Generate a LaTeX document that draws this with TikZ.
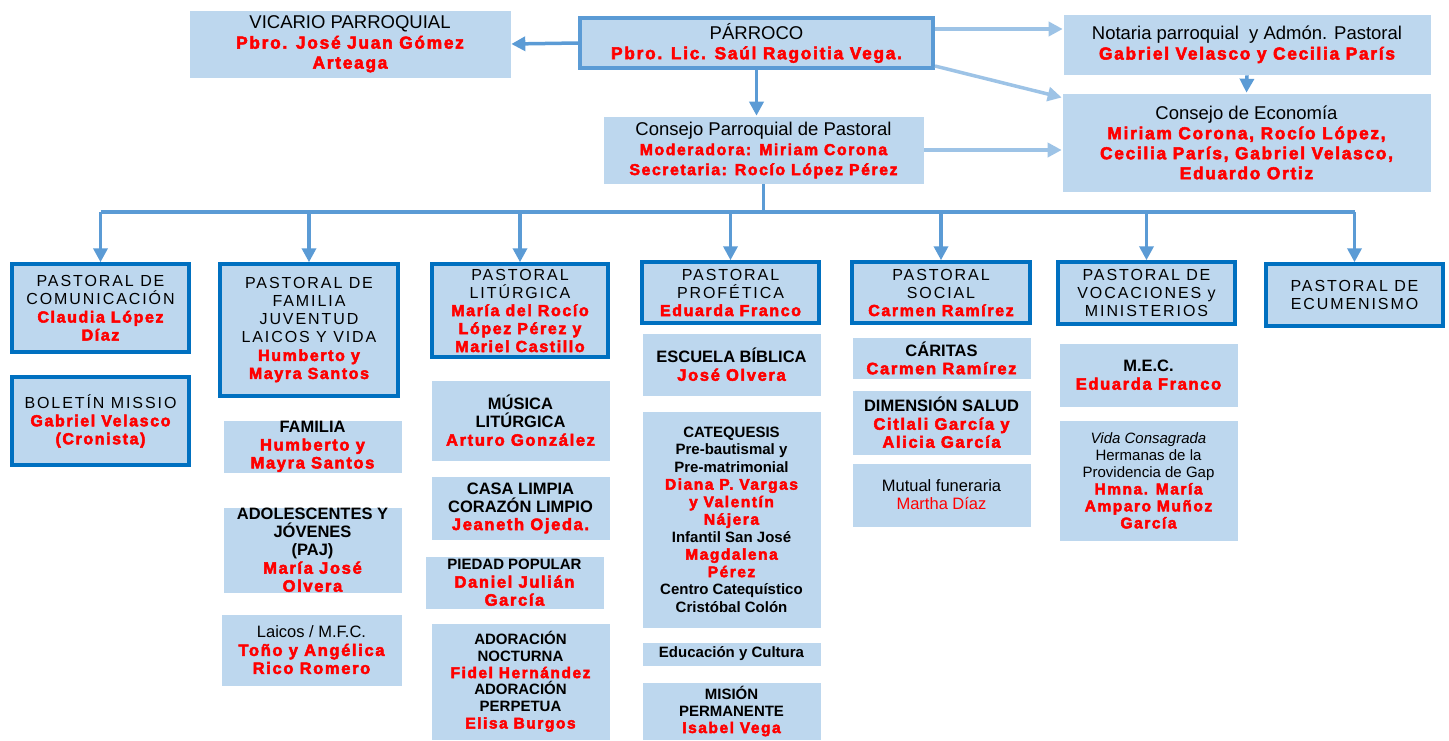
\documentclass[tikz,border=0pt]{standalone}
\usepackage{fontspec}
\setmainfont{Liberation Sans}
\newfontfamily\spaced[LetterSpace=12]{Liberation Sans}
\usetikzlibrary{arrows.meta}

\definecolor{boxfill}{HTML}{BDD7EE}
\definecolor{linkblue}{HTML}{5B9BD5}
\definecolor{lightlink}{HTML}{9DC3E6}
\definecolor{frameblue}{HTML}{0070C0}

% red names
\newcommand{\rd}[2][16.5]{{\fontsize{#1}{18}\selectfont\color{red}\bfseries\addfontfeature{LetterSpace=10,FakeBold=3}#2}}
\newcommand{\rn}[1]{{\color{red}#1}}

\tikzset{
  box/.style={fill=boxfill, draw=white, line width=0.6pt, inner sep=0pt, align=center,
    font=\fontsize{16.5}{18}\selectfont\bfseries},
  topbox/.style={box, font=\fontsize{18.5}{20}\selectfont},
  pastoral/.style={box, draw=frameblue, line width=3.5pt,
    font=\fontsize{16}{18}\selectfont\spaced},
  arr/.style={draw=linkblue, line width=3.5pt, -{Triangle[length=14pt,width=14pt]}},
  bus/.style={draw=linkblue, line width=3.5pt},
  lightarr/.style={draw=lightlink, line width=3.5pt, -{Triangle[length=14pt,width=14pt]}}
}

\begin{document}
\begin{tikzpicture}[x=1pt,y=-1pt]
\useasboundingbox (0,0) rectangle (1449,740);

% top level
\node[topbox, minimum width=322pt, minimum height=68pt] (vic) at (350,44)
  {VICARIO PARROQUIAL\\\rd[17.3]{Pbro. José Juan Gómez}\\\rd[17.3]{Arteaga}};
\node[topbox, draw=linkblue, line width=4pt, minimum width=353pt, minimum height=50pt] (par) at (756.5,43)
  {PÁRROCO\\\rd[17.3]{Pbro. Lic. Saúl Ragoitia Vega.}};
\node[topbox, minimum width=368pt, minimum height=61pt] (not) at (1247,44.5)
  {Notaria parroquial\ \ y Admón. Pastoral\\\rd[17.3]{Gabriel Velasco y Cecilia París}};
\node[topbox, minimum width=369pt, minimum height=99pt] (eco) at (1246.5,142.5)
  {Consejo de Economía\\\rd[17.3]{Miriam Corona, Rocío López,}\\\rd[17.3]{Cecilia París, Gabriel Velasco,}\\\rd[17.3]{Eduardo Ortiz}};
\node[topbox, minimum width=321pt, minimum height=68pt] (cpp) at (763.5,150)
  {Consejo Parroquial de Pastoral\\\rd[15.8]{Moderadora: Miriam Corona}\\\rd[15.8]{Secretaria: Rocío López Pérez}};

\draw[arr] (par.west) -- (vic.east);
\draw[arr] (par.south) -- (par.south |- cpp.north);
\draw[lightarr] ([yshift=14pt]par.east) -- ([yshift=14pt]par.east -| not.west);
\draw[lightarr] ([yshift=-23pt]par.east) -- ([yshift=45pt]eco.west);
\draw[lightarr] (cpp.east) -- (cpp.east -| eco.west);
\draw[arr] (not.south) -- (eco.north);

% pastorales
\node[pastoral, minimum width=177pt, minimum height=88pt] (com) at (100.5,308)
  {PASTORAL DE\\COMUNICACIÓN\\\rd[16]{Claudia López}\\\rd[16]{Díaz}};
\node[pastoral, minimum width=178pt, minimum height=132pt] (fam) at (309,330)
  {PASTORAL DE\\FAMILIA\\JUVENTUD\\LAICOS Y VIDA\\\rd[16]{Humberto y}\\\rd[16]{Mayra Santos}};
\node[pastoral, minimum width=176pt, minimum height=93pt] (lit) at (520,310.5)
  {PASTORAL\\LITÚRGICA\\\rd[16]{María del Rocío}\\\rd[16]{López Pérez y}\\\rd[16]{Mariel Castillo}};
\node[pastoral, minimum width=177pt, minimum height=61pt] (pro) at (730.5,292.5)
  {PASTORAL\\PROFÉTICA\\\rd[16]{Eduarda Franco}};
\node[pastoral, minimum width=178pt, minimum height=61pt] (soc) at (941,292.5)
  {PASTORAL\\SOCIAL\\\rd[16]{Carmen Ramírez}};
\node[pastoral, minimum width=177pt, minimum height=62pt] (voc) at (1146.5,293)
  {PASTORAL DE\\VOCACIONES y\\MINISTERIOS};
\node[pastoral, minimum width=177pt, minimum height=62pt] (ecu) at (1354.5,295)
  {PASTORAL DE\\ECUMENISMO};

\coordinate (bus) at (0,212);
\draw[bus] (cpp.south) -- (cpp.south |- bus);
\draw[bus] (com.north |- bus) -- (ecu.north |- bus);
\foreach \p in {com,fam,lit,pro,soc,voc,ecu}
  \draw[arr] (\p.north |- bus) -- (\p.north);

% comunicacion
\node[pastoral, minimum width=177pt, minimum height=88pt] (bol) at (100.5,421)
  {BOLETÍN MISSIO\\\rd[16]{Gabriel Velasco}\\\rd[16]{(Cronista)}};

% familia
\node[box, minimum width=179pt, minimum height=53pt] (famsub) at (312.5,446.5)
  {FAMILIA\\\rd{Humberto y}\\\rd{Mayra Santos}};
\node[box, minimum width=179pt, minimum height=86pt] (ado) at (312.5,550)
  {ADOLESCENTES Y\\JÓVENES\\(PAJ)\\\rd{María José}\\\rd{Olvera}};
\node[box, minimum width=181pt, minimum height=72pt] (lai) at (311.5,650)
  {\mdseries Laicos / M.F.C.\\\rd{Toño y Angélica}\\\rd{Rico Romero}};

% liturgica
\node[box, minimum width=179pt, minimum height=81pt] (mus) at (520.5,420.5)
  {MÚSICA\\LITÚRGICA\\\rd{Arturo González}};
\node[box, minimum width=179pt, minimum height=64pt] (casa) at (520.5,508)
  {CASA LIMPIA\\CORAZÓN LIMPIO\\\rd{Jeaneth Ojeda.}};
\node[box, minimum width=179pt, minimum height=53pt, font=\fontsize{15}{18}\selectfont\bfseries] (pie) at (514.5,582.5)
  {PIEDAD POPULAR\\\rd{Daniel Julián}\\\rd{García}};
\node[box, minimum width=179pt, minimum height=117pt, font=\fontsize{15}{16.8}\selectfont\bfseries] (ador) at (520.5,681.5)
  {ADORACIÓN\\NOCTURNA\\\rd[15.5]{Fidel Hernández}\\ADORACIÓN\\PERPETUA\\\rd[15.5]{Elisa Burgos}};

% profetica
\node[box, minimum width=179pt, minimum height=63pt] (esc) at (731.5,364.5)
  {ESCUELA BÍBLICA\\\rd{José Olvera}};
\node[box, minimum width=179pt, minimum height=217pt, font=\fontsize{15}{17.5}\selectfont\bfseries] (cat) at (731.5,519.5)
  {CATEQUESIS\\Pre-bautismal y\\Pre-matrimonial\\\rd[15.5]{Diana P. Vargas}\\\rd[15.5]{y Valentín}\\\rd[15.5]{Nájera}\\Infantil San José\\\rd[15.5]{Magdalena}\\\rd[15.5]{Pérez}\\Centro Catequístico\\Cristóbal Colón};
\node[box, minimum width=179pt, minimum height=24pt, font=\fontsize{15}{17}\selectfont\bfseries] (edu) at (731.5,654)
  {Educación y Cultura};
\node[box, minimum width=179pt, minimum height=58pt, font=\fontsize{15}{17}\selectfont\bfseries] (mis) at (731.5,711)
  {MISIÓN\\PERMANENTE\\\rd[15.5]{Isabel Vega}};

% social
\node[box, minimum width=179pt, minimum height=42pt] (car) at (941.5,358)
  {CÁRITAS\\\rd{Carmen Ramírez}};
\node[box, minimum width=179pt, minimum height=65pt] (sal) at (941.5,422.5)
  {DIMENSIÓN SALUD\\\rd{Citlali García y}\\\rd{Alicia García}};
\node[box, minimum width=179pt, minimum height=64pt, font=\fontsize{16.5}{18}\selectfont] (mut) at (941.5,495)
  {Mutual funeraria\\\rn{Martha Díaz}};

% vocaciones
\node[box, minimum width=179pt, minimum height=64pt] (mec) at (1148.5,375)
  {M.E.C.\\\rd{Eduarda Franco}};
\node[box, minimum width=179pt, minimum height=121pt, font=\fontsize{15}{17}\selectfont] (vida) at (1148.5,480.5)
  {\textit{Vida Consagrada}\\Hermanas de la\\Providencia de Gap\\\rd[15.5]{Hmna. María}\\\rd[15.5]{Amparo Muñoz}\\\rd[15.5]{García}};

\end{tikzpicture}
\end{document}
